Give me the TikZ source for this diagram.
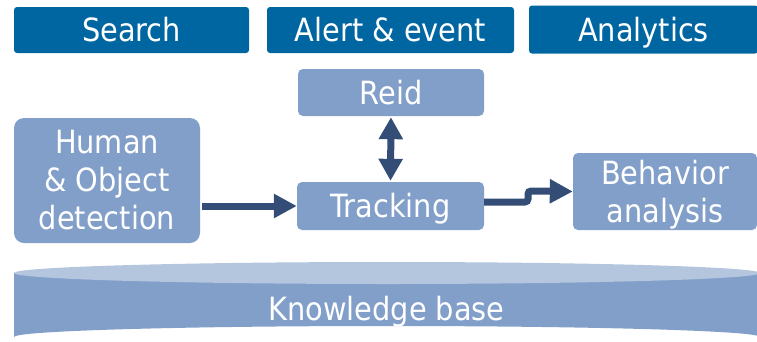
\documentclass[tikz,border=0pt]{standalone}
\usepackage{fontspec}
\setmainfont{DejaVu Sans}[FakeStretch=0.9]
\usetikzlibrary{arrows.meta,calc}
\definecolor{topblue}{RGB}{0,102,161}
\definecolor{boxblue}{RGB}{130,159,202}
\definecolor{cyltop}{RGB}{180,197,222}
\definecolor{arrowblue}{RGB}{52,77,119}
\begin{document}
\begin{tikzpicture}[x=1pt,y=-1pt,
  txt/.style={text=white,font=\fontsize{32}{38}\selectfont,align=center,inner sep=0pt},
  oneline/.style={text height=23.3pt,text depth=0pt},
  topbox/.style={txt,oneline,fill=topblue,rounded corners=3pt},
  stepbox/.style={txt,fill=boxblue,rounded corners=5pt},
  flow/.style={draw=arrowblue,line width=7pt,-{Triangle[width=23pt,length=23pt]}},
  both/.style={draw=arrowblue,line width=7pt,{Triangle[width=23pt,length=22pt]}-{Triangle[width=23pt,length=22pt]}}]
\useasboundingbox (0,0) rectangle (757,341);

% service layer
\node[topbox,minimum width=235pt,minimum height=46pt] (search) at (131.5,30) {Search};
\node[topbox,minimum width=247pt,minimum height=46pt] (alert) at (390.5,30) {Alert \& event};
\node[topbox,minimum width=229pt,minimum height=48pt] (analytics) at (643.5,29.5) {Analytics};

% processing stages
\node[stepbox,oneline,minimum width=186pt,minimum height=47pt] (reid) at (391,92.5) {Reid};
\node[stepbox,rounded corners=10pt,minimum width=186pt,minimum height=125pt] (detect) at (107,180.5) {Human\\\& Object\\detection};
\node[stepbox,oneline,minimum width=187pt,minimum height=48pt] (track) at (390.5,206) {Tracking};
\node[stepbox,text depth=0pt,minimum width=184pt,minimum height=77pt] (behav) at (665,191.5) {Behavior\\analysis};

% connectors
\draw[flow,shorten <=2pt] (detect.east |- track.west) -- (track.west);
\draw[both,shorten <=1pt,shorten >=1pt] (reid.south) -- (track.north);
\coordinate (trackout) at ($(track.east)+(0,-4)$);
\draw[flow,rounded corners=3pt] (trackout) -- (528,202) -- (528,191) -- (behav.west);

% knowledge base cylinder
\fill[boxblue] (14,273) -- (14,337) arc[start angle=180,end angle=360,x radius=373,y radius=11] -- (760,273) -- cycle;
\fill[cyltop] (387,273) ellipse[x radius=373,y radius=11];
\node[txt,oneline] (kb) at (386.5,309) {Knowledge base};
\end{tikzpicture}
\end{document}
